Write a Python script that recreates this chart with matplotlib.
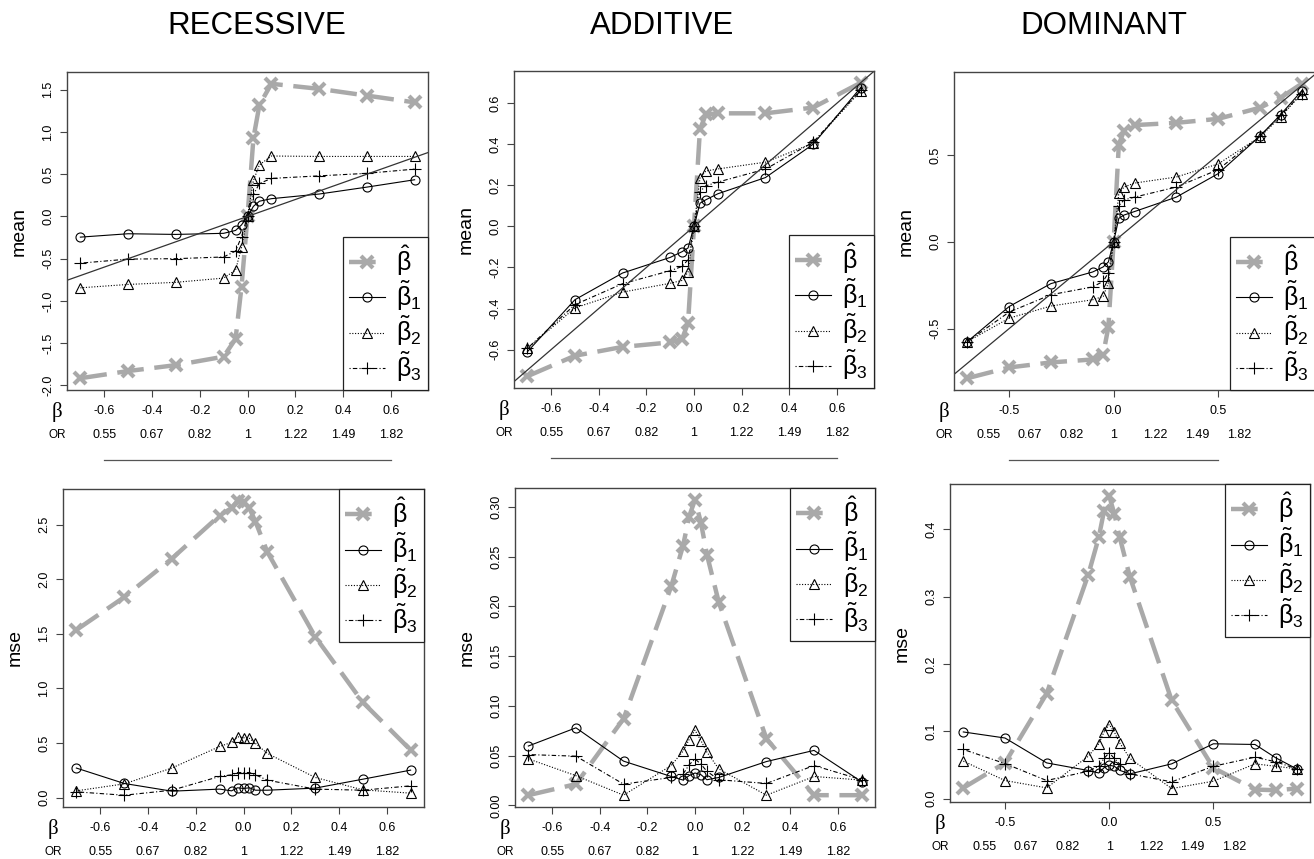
import matplotlib
matplotlib.use("Agg")
from matplotlib import pyplot as plt
from matplotlib import transforms

plt.rcParams['font.family'] = ['Liberation Sans', 'DejaVu Sans']
plt.rcParams['mathtext.fontset'] = 'custom'
plt.rcParams['mathtext.rm'] = 'Liberation Sans'
plt.rcParams['mathtext.it'] = 'Liberation Sans'
plt.rcParams['mathtext.bf'] = 'Liberation Sans:bold'
plt.rcParams['axes.unicode_minus'] = False

# true beta values used in the simulations
beta_rec = [-0.7, -0.5, -0.3, -0.1, -0.05, -0.025, 0, 0.025, 0.05, 0.1, 0.3, 0.5, 0.7]
beta_add = [-0.7, -0.5, -0.3, -0.1, -0.05, -0.025, 0, 0.025, 0.05, 0.1, 0.3, 0.5, 0.7]
beta_dom = [-0.7, -0.5, -0.3, -0.1, -0.05, -0.025, 0, 0.025, 0.05, 0.1, 0.3, 0.5, 0.7, 0.8, 0.9]

# recessive
rec_mean_hat = [-1.915, -1.83, -1.76, -1.66, -1.45, -0.83, 0.0, 0.93, 1.32, 1.57, 1.51, 1.43, 1.35]
rec_mean_t1 = [-0.245, -0.205, -0.213, -0.20, -0.166, -0.10, 0.0, 0.12, 0.18, 0.21, 0.265, 0.347, 0.434]
rec_mean_t2 = [-0.845, -0.805, -0.78, -0.73, -0.635, -0.367, 0.0, 0.426, 0.61, 0.715, 0.71, 0.71, 0.71]
rec_mean_t3 = [-0.553, -0.505, -0.50, -0.48, -0.41, -0.24, 0.0, 0.26, 0.39, 0.45, 0.48, 0.51, 0.56]
rec_mse_hat = [1.536, 1.836, 2.19, 2.585, 2.653, 2.72, 2.71, 2.65, 2.53, 2.25, 1.475, 0.872, 0.435]
rec_mse_t1 = [0.27, 0.129, 0.058, 0.077, 0.061, 0.089, 0.083, 0.089, 0.067, 0.067, 0.086, 0.168, 0.251]
rec_mse_t2 = [0.061, 0.125, 0.27, 0.468, 0.505, 0.557, 0.548, 0.542, 0.496, 0.404, 0.184, 0.07, 0.04]
rec_mse_t3 = [0.052, 0.021, 0.067, 0.193, 0.208, 0.229, 0.229, 0.229, 0.208, 0.159, 0.077, 0.067, 0.107]

# additive
add_mean_hat = [-0.73, -0.63, -0.587, -0.565, -0.548, -0.47, 0.0, 0.473, 0.546, 0.551, 0.551, 0.579, 0.70]
add_mean_t1 = [-0.611, -0.357, -0.227, -0.151, -0.123, -0.105, 0.0, 0.113, 0.13, 0.159, 0.238, 0.40, 0.676]
add_mean_t2 = [-0.594, -0.397, -0.32, -0.277, -0.263, -0.222, 0.0, 0.235, 0.27, 0.28, 0.313, 0.405, 0.66]
add_mean_t3 = [-0.594, -0.381, -0.279, -0.216, -0.195, -0.162, 0.0, 0.17, 0.198, 0.216, 0.279, 0.41, 0.665]
add_mse_hat = [0.0102, 0.0213, 0.087, 0.22, 0.261, 0.29, 0.307, 0.284, 0.252, 0.204, 0.067, 0.0102, 0.0102]
add_mse_t1 = [0.0596, 0.0779, 0.0444, 0.029, 0.0254, 0.0298, 0.0325, 0.0308, 0.0257, 0.028, 0.044, 0.0552, 0.0237]
add_mse_t2 = [0.0467, 0.0298, 0.0102, 0.04, 0.0545, 0.066, 0.0755, 0.065, 0.0535, 0.0366, 0.0102, 0.029, 0.0254]
add_mse_t3 = [0.051, 0.0494, 0.0213, 0.028, 0.0315, 0.0406, 0.0467, 0.0413, 0.0342, 0.0257, 0.022, 0.04, 0.0257]

# dominant
dom_mean_hat = [-0.786, -0.724, -0.695, -0.678, -0.65, -0.49, 0.0, 0.56, 0.64, 0.672, 0.685, 0.708, 0.772, 0.83, 0.91]
dom_mean_t1 = [-0.575, -0.373, -0.241, -0.174, -0.145, -0.116, 0.0, 0.135, 0.154, 0.174, 0.257, 0.392, 0.608, 0.733, 0.869]
dom_mean_t2 = [-0.575, -0.44, -0.37, -0.334, -0.315, -0.236, 0.0, 0.28, 0.315, 0.338, 0.373, 0.448, 0.604, 0.72, 0.853]
dom_mean_t3 = [-0.575, -0.405, -0.305, -0.26, -0.228, -0.178, 0.0, 0.208, 0.241, 0.257, 0.315, 0.415, 0.608, 0.728, 0.853]
dom_mse_hat = [0.0159, 0.053, 0.156, 0.333, 0.388, 0.427, 0.45, 0.423, 0.389, 0.329, 0.146, 0.0457, 0.0134, 0.0124, 0.0149]
dom_mse_t1 = [0.099, 0.090, 0.053, 0.0417, 0.038, 0.0457, 0.0496, 0.048, 0.042, 0.0367, 0.0516, 0.0814, 0.0804, 0.0605, 0.0442]
dom_mse_t2 = [0.0556, 0.0268, 0.0159, 0.063, 0.0814, 0.0988, 0.11, 0.0988, 0.0829, 0.0596, 0.0149, 0.0258, 0.0516, 0.048, 0.0442]
dom_mse_t3 = [0.073, 0.052, 0.0268, 0.0407, 0.048, 0.0596, 0.068, 0.0596, 0.0516, 0.0367, 0.0248, 0.048, 0.0615, 0.0546, 0.0442]

# axis ticks
xticks_ra = [-0.6, -0.4, -0.2, 0.0, 0.2, 0.4, 0.6]
xticks_dom = [-0.5, 0.0, 0.5]
or_pos = [-0.6, -0.4, -0.2, 0.0, 0.2, 0.4, 0.6]
or_labels = ["0.55", "0.67", "0.82", "1", "1.22", "1.49", "1.82"]
yticks_rec_mean = [-2.0, -1.5, -1.0, -0.5, 0.0, 0.5, 1.0, 1.5]
yticks_rec_mse = [0.0, 0.5, 1.0, 1.5, 2.0, 2.5]
yticks_add_mean = [-0.6, -0.4, -0.2, 0.0, 0.2, 0.4, 0.6]
yticks_add_mse = [0.0, 0.05, 0.10, 0.15, 0.20, 0.25, 0.30]
yticks_dom_mean = [-0.5, 0.0, 0.5]
yticks_dom_mse = [0.0, 0.1, 0.2, 0.3, 0.4]

titles = ["RECESSIVE", "ADDITIVE", "DOMINANT"]
legend_labels = [r"$\hat{\beta}$", r"$\tilde{\beta}_1$", r"$\tilde{\beta}_2$", r"$\tilde{\beta}_3$"]

W, H = 1314, 859
GRAY = '#a9a9a9'
FRAME = '#444444'

fig = plt.figure(figsize=(W / 100, H / 100), dpi=100)


def make_axes(left, top, right, bottom):
    return fig.add_axes([left / W, 1 - bottom / H, (right - left) / W, (bottom - top) / H])


def shifted(tr, dx, dy):
    return transforms.offset_copy(tr, fig=fig, x=dx, y=dy, units='dots')


def panel(ax, x, hat, t1, t2, t3, xticks, yticks, yfmt, ylab, top_row):
    ax.plot(x, hat, color=GRAY, lw=3.2, dashes=(6, 2.4), marker='x', ms=8, mew=3, label=legend_labels[0])
    ax.plot(x, t1, color='k', lw=0.8, ls='-', marker='o', ms=6.5, mfc='none', mew=0.8, label=legend_labels[1])
    ax.plot(x, t2, color='k', lw=0.8, ls=(0, (1, 1.5)), marker='^', ms=6.5, mfc='none', mew=0.8, label=legend_labels[2])
    ax.plot(x, t3, color='k', lw=0.8, ls=(0, (1, 2, 4, 2)), marker='+', ms=8, mew=0.8, label=legend_labels[3])
    if top_row:
        ax.axline((0, 0), slope=1, color='#333333', lw=0.9)
    ax.margins(x=0.04, y=0.04)

    ax.set_xticks(xticks)
    ax.set_xticklabels(["%.1f" % v for v in xticks])
    ax.set_yticks(yticks)
    ax.set_yticklabels([yfmt % v for v in yticks], rotation=90, va='center')
    ax.tick_params(length=5, width=0.8, color=FRAME, labelsize=9, pad=6)
    ax.tick_params(axis='y', pad=4)
    for s in ax.spines.values():
        s.set_color(FRAME)
        s.set_linewidth(1.0)

    ax.text(0, 0.5, ylab, transform=shifted(ax.transAxes, -48, 0), fontsize=14,
            rotation=90, ha='center', va='center')
    ax.text(0, 0, "β", transform=shifted(ax.transAxes, -10, -22), family='Liberation Serif',
            fontsize=15, ha='center', va='center', clip_on=False)
    ax.text(0, 0, "OR", transform=shifted(ax.transAxes, -10, -45), fontsize=8.5,
            ha='center', va='center', clip_on=False)
    or_row = shifted(ax.get_xaxis_transform(), 0, -45)
    for p, lab in zip(or_pos, or_labels):
        ax.text(p, 0, lab, transform=or_row, fontsize=9, ha='center', va='center', clip_on=False)
    if top_row:
        ax.plot([xticks[0], xticks[-1]], [0, 0], transform=shifted(ax.get_xaxis_transform(), 0, -70),
                color='#555555', lw=0.9, clip_on=False)

    leg = ax.legend(loc='lower right' if top_row else 'upper right', borderaxespad=0, fontsize=18,
                    handlelength=1.45, handletextpad=0.45, labelspacing=0.05, borderpad=0.25,
                    fancybox=False, framealpha=1, edgecolor='#222222', numpoints=1)
    leg.get_frame().set_linewidth(0.9)


ax = make_axes(67, 72, 428, 390)
panel(ax, beta_rec, rec_mean_hat, rec_mean_t1, rec_mean_t2, rec_mean_t3, xticks_ra, yticks_rec_mean, "%.1f", "mean", True)
ax = make_axes(514, 71, 874, 388)
panel(ax, beta_add, add_mean_hat, add_mean_t1, add_mean_t2, add_mean_t3, xticks_ra, yticks_add_mean, "%.1f", "mean", True)
ax = make_axes(954, 72, 1315, 390)
panel(ax, beta_dom, dom_mean_hat, dom_mean_t1, dom_mean_t2, dom_mean_t3, xticks_dom, yticks_dom_mean, "%.1f", "mean", True)

ax = make_axes(63, 489, 424, 807)
panel(ax, beta_rec, rec_mse_hat, rec_mse_t1, rec_mse_t2, rec_mse_t3, xticks_ra, yticks_rec_mse, "%.1f", "mse", False)
ax = make_axes(515, 488, 875, 807)
panel(ax, beta_add, add_mse_hat, add_mse_t1, add_mse_t2, add_mse_t3, xticks_ra, yticks_add_mse, "%.2f", "mse", False)
ax = make_axes(950, 484, 1310, 802)
panel(ax, beta_dom, dom_mse_hat, dom_mse_t1, dom_mse_t2, dom_mse_t3, xticks_dom, yticks_dom_mse, "%.1f", "mse", False)

for t, xc in zip(titles, [257, 662, 1104]):
    fig.text(xc / W, 1 - 26 / H, t, fontsize=22.5, ha='center', va='center')

fig.savefig('out.png', dpi=100)
